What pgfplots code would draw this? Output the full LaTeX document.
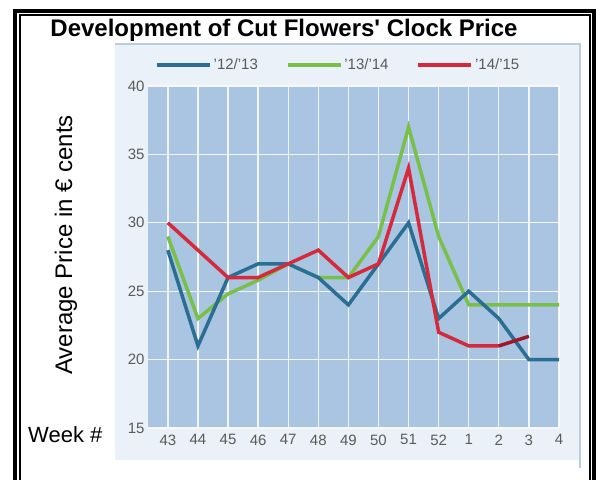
\documentclass[border=0pt]{standalone}
\usepackage{fontspec}
\setmainfont{Liberation Sans}
\usepackage{pgfplots}
\pgfplotsset{compat=1.18}
\definecolor{cblue}{HTML}{2B6E94}
\definecolor{cgreen}{HTML}{78C048}
\definecolor{cred}{HTML}{D42A3C}
\definecolor{cdred}{HTML}{A01828}
\definecolor{plotbg}{HTML}{A9C5E1}
\definecolor{panelbg}{HTML}{EAF1F8}
\definecolor{panelbd}{HTML}{B8CDE0}
\definecolor{tickgray}{HTML}{5A5A5A}
\begin{document}
\begin{tikzpicture}[x=1pt,y=1pt]
\path[use as bounding box] (0,0) rectangle (596,479);
% outer double frame
\draw[line width=4pt,line join=miter] (14.7,-2) -- (14.7,468) -- (593.5,468) -- (593.5,-2);
\draw[line width=2pt,line join=miter] (19.5,-2) -- (19.5,464) -- (589.5,464) -- (589.5,-2);
% chart panel
\fill[panelbg] (115,19) rectangle (580,435);
\draw[panelbd,line width=1.5pt] (115,435) -- (580,435) -- (580,11);
% title and labels
\node[anchor=base,font=\fontsize{24}{24}\selectfont\bfseries] at (284,442) {Development of Cut Flowers\textquotesingle{} Clock Price};
\node[anchor=base,rotate=90,font=\fontsize{24}{24}\selectfont] at (72,234) {Average Price in € cents};
\node[anchor=base west,font=\fontsize{22}{22}\selectfont,inner sep=0pt] at (28,37) {Week \#};
\begin{axis}[
  at={(148pt,51pt)}, anchor=south west,
  scale only axis, width=411pt, height=342pt,
  xmin=-0.66, xmax=13, ymin=15, ymax=40,
  axis background/.style={fill=plotbg},
  axis line style={draw=none},
  major tick length=0pt,
  xtick={0,1,...,13},
  xticklabels={43,44,45,46,47,48,49,50,51,52,1,2,3,4},
  ytick={15,20,25,30,35,40},
  /pgf/number format/assume math mode=true,
  grid=major,
  major grid style={white,line width=1.3pt,opacity=0.85},
  tick label style={font=\fontsize{15}{15}\selectfont,text=tickgray},
  xticklabel style={yshift=-3pt},
  legend columns=3,
  legend style={at={(0.017,1.061)},anchor=west,draw=none,fill=none,inner sep=0pt,
    font=\fontsize{15}{15}\selectfont,text=tickgray,
    /tikz/every even column/.append style={column sep=26pt}},
  legend image code/.code={\draw[#1,line width=3.5pt] (0pt,0pt) -- (53pt,0pt);},
]
\addlegendimage{cblue}\addlegendentry{’12/’13}
\addlegendimage{cgreen}\addlegendentry{’13/’14}
\addlegendimage{cred}\addlegendentry{’14/’15}
% '13/'14
\addplot[cgreen,line width=3.5pt,forget plot] table {
x y
0 29
1 23
2 24.8
3 25.8
4 27
5 26
6 26
7 29
8 37
9 29
10 24
11 24
12 24
13 24
};
% '12/'13
\addplot[cblue,line width=3.5pt,forget plot] table {
x y
0 28
1 21
2 26
3 27
4 27
5 26
6 24
7 27
8 30
9 23
10 25
11 23
12 20
13 20
};
% '14/'15
\addplot[cred,line width=3.5pt,forget plot] table {
x y
0 30
1 28
2 26
3 26
4 27
5 28
6 26
7 27
8 34
9 22
10 21
11 21
};
\addplot[cdred,line width=3.5pt,forget plot] table {
x y
11 21
12 21.7
};
\end{axis}
\end{tikzpicture}
\end{document}
